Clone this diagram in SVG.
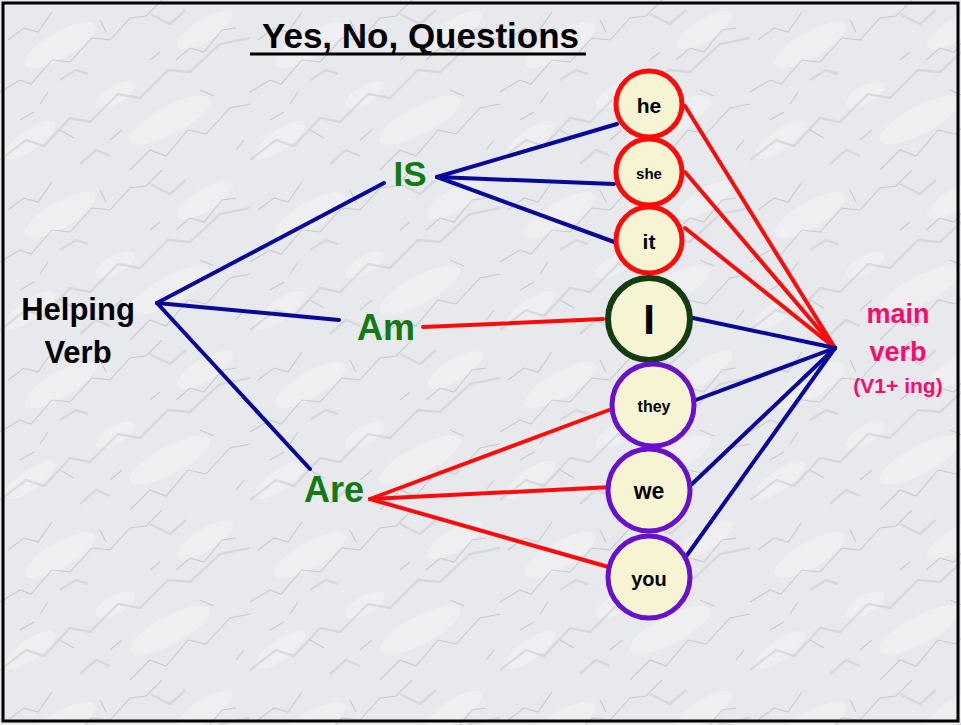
<svg xmlns="http://www.w3.org/2000/svg" width="961" height="725" viewBox="0 0 961 725">
<style>
.blue{stroke:#08089a;stroke-width:4;fill:none;stroke-linecap:round}
.red{stroke:#ff0a0a;stroke-width:4;fill:none;stroke-linecap:round}
.t{font-family:"Liberation Sans",Arial,sans-serif;font-weight:bold}
.green{fill:#127a12}
.pink{fill:#ff0a6c}
.cRed{fill:#f6f4d2;stroke:#ff0a0a;stroke-width:5}
.cPur{fill:#f6f4d2;stroke:#6a10cc;stroke-width:5}
.cGrn{fill:#f6f4d2;stroke:#143c10;stroke-width:6}
.ct{fill:#000;text-anchor:middle}
.v1{stroke:#aeb0b7;stroke-width:1.1;fill:none;opacity:0.55}
.v2{stroke:#c6c8cd;stroke-width:2.4;fill:none;opacity:0.5}
.hl{fill:#f6f6f8;opacity:0.5}
</style>
<defs>
<pattern id="marble" width="250" height="170" patternUnits="userSpaceOnUse">
<rect width="250" height="170" fill="#e8e9ed"/>
<ellipse class="hl" cx="60" cy="45" rx="40" ry="13" transform="rotate(-30 60 45)"/>
<ellipse class="hl" cx="170" cy="120" rx="45" ry="14" transform="rotate(-28 170 120)"/>
<ellipse class="hl" cx="30" cy="140" rx="30" ry="10" transform="rotate(-35 30 140)"/>
<ellipse class="hl" cx="205" cy="30" rx="32" ry="11" transform="rotate(-32 205 30)"/>
<ellipse class="hl" cx="115" cy="95" rx="22" ry="9" transform="rotate(-30 115 95)"/>
<path class="v1" d="M0 92 L20 80 L31 84 L52 60 L70 62 L92 38 L110 40 L130 18 L146 16 L162 0"/>
<path class="v2" d="M0 160 L26 140 L44 146 L70 118 L90 122 L118 94 L140 98 L168 70 L190 72 L220 44 L250 38"/>
<path class="v1" d="M130 170 L150 150 L166 156 L188 130 L206 134 L230 108 L250 104"/>
<path class="v1" d="M8 40 L24 28 L38 32 L52 12"/>
<path class="v1" d="M176 60 L190 48 L204 52 L222 30 L236 28"/>
<path class="v1" d="M60 130 L74 138 M100 20 L106 32 M200 90 L214 96 M40 104 L48 92 M236 150 L244 140 M150 60 L160 52 M20 120 L34 112 M110 140 L122 130"/>
<path class="v2" d="M150 14 L170 24 L186 10 M80 164 L96 150 L110 156 M60 80 L76 70 L88 74"/>
</pattern>
</defs>
<rect x="0" y="0" width="961" height="725" fill="url(#marble)"/>
<rect x="3" y="3" width="955" height="718" fill="none" stroke="#000" stroke-width="3"/>

<g id="title">
<text class="t" x="262" y="48" font-size="35" fill="#000">Yes, No, Questions</text>
<line x1="250" y1="54" x2="586" y2="54" stroke="#000" stroke-width="3"/>
</g>

<g id="connectors">
<line class="blue" x1="157" y1="303" x2="384" y2="183"/>
<line class="blue" x1="157" y1="303" x2="339" y2="320"/>
<line class="blue" x1="157" y1="303" x2="310" y2="469"/>
<line class="blue" x1="437" y1="177" x2="617" y2="124"/>
<line class="blue" x1="437" y1="177" x2="614" y2="184"/>
<line class="blue" x1="437" y1="177" x2="617" y2="243"/>
<line class="red" x1="423" y1="327" x2="603" y2="319"/>
<line class="red" x1="370" y1="499" x2="609" y2="410"/>
<line class="red" x1="370" y1="499" x2="612" y2="487"/>
<line class="red" x1="370" y1="499" x2="612" y2="568"/>
<line class="red" x1="685" y1="106" x2="835" y2="348"/>
<line class="red" x1="685" y1="172" x2="835" y2="348"/>
<line class="red" x1="685" y1="228" x2="835" y2="348"/>
<line class="blue" x1="693" y1="318" x2="835" y2="348"/>
<line class="blue" x1="693" y1="401" x2="835" y2="348"/>
<line class="blue" x1="692" y1="484" x2="835" y2="348"/>
<line class="blue" x1="685" y1="558" x2="835" y2="348"/>
</g>

<g id="helping-verb">
<text class="t" x="78" y="320" font-size="31" fill="#000" text-anchor="middle">Helping</text>
<text class="t" x="78" y="363" font-size="31" fill="#000" text-anchor="middle">Verb</text>
</g>
<g id="is"><text class="t green" x="410" y="186" font-size="35" text-anchor="middle">IS</text></g>
<g id="am"><text class="t green" x="386" y="340" font-size="36" text-anchor="middle">Am</text></g>
<g id="are"><text class="t green" x="334" y="502" font-size="36" text-anchor="middle">Are</text></g>

<g id="he"><circle class="cRed" cx="649" cy="104" r="33"/><text class="t ct" x="649" y="113" font-size="21">he</text></g>
<g id="she"><circle class="cRed" cx="649" cy="172" r="33"/><text class="t ct" x="649" y="179" font-size="15">she</text></g>
<g id="it"><circle class="cRed" cx="649" cy="240" r="33"/><text class="t ct" x="649" y="249" font-size="21">it</text></g>
<g id="i"><circle class="cGrn" cx="649" cy="319" r="41"/><text class="t ct" x="649" y="334" font-size="42">I</text></g>
<g id="they"><circle class="cPur" cx="653" cy="405" r="41"/><text class="t ct" x="654" y="412" font-size="16">they</text></g>
<g id="we"><circle class="cPur" cx="649" cy="490" r="41"/><text class="t ct" x="649" y="499" font-size="23">we</text></g>
<g id="you"><circle class="cPur" cx="649" cy="577" r="41"/><text class="t ct" x="649" y="586" font-size="20">you</text></g>

<g id="main-verb">
<text class="t pink" x="898" y="323" font-size="27" text-anchor="middle">main</text>
<text class="t pink" x="898" y="361" font-size="27" text-anchor="middle">verb</text>
<text class="t pink" x="898" y="393" font-size="21" text-anchor="middle">(V1+ ing)</text>
</g>
</svg>
